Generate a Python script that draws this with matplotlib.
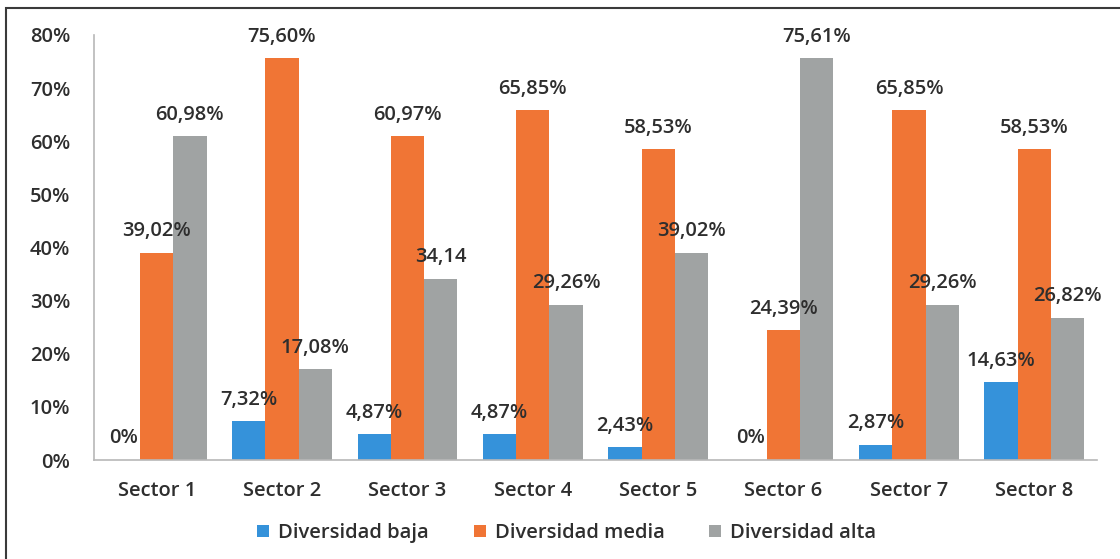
import matplotlib
matplotlib.use("Agg")
import matplotlib.pyplot as plt
from matplotlib.patches import Rectangle
import numpy as np

plt.rcParams['font.family'] = ['Open Sans', 'DejaVu Sans']
plt.rcParams['font.weight'] = 'semibold'

categories = ["Sector 1", "Sector 2", "Sector 3", "Sector 4", "Sector 5", "Sector 6", "Sector 7", "Sector 8"]
series_names = ["Diversidad baja", "Diversidad media", "Diversidad alta"]
baja = [0.0, 7.32, 4.87, 4.87, 2.43, 0.0, 2.87, 14.63]
media = [39.02, 75.60, 60.97, 65.85, 58.53, 24.39, 65.85, 58.53]
alta = [60.98, 17.08, 34.14, 29.26, 39.02, 75.61, 29.26, 26.82]
baja_labels = ["0%", "7,32%", "4,87%", "4,87%", "2,43%", "0%", "2,87%", "14,63%"]
media_labels = ["39,02%", "75,60%", "60,97%", "65,85%", "58,53%", "24,39%", "65,85%", "58,53%"]
alta_labels = ["60,98%", "17,08%", "34,14", "29,26%", "39,02%", "75,61%", "29,26%", "26,82%"]
yticks = [0, 10, 20, 30, 40, 50, 60, 70, 80]
ytick_labels = ["0%", "10%", "20%", "30%", "40%", "50%", "60%", "70%", "80%"]

colors = ["#3592DA", "#F07535", "#A0A3A3"]
text_color = "#2E2E2E"
fs = 14.5

fig = plt.figure(figsize=(11.2, 5.59), dpi=100)
ax = fig.add_axes([94/1120, 1 - 460/559, (1097 - 94)/1120, (460 - 35)/559])

x = np.arange(len(categories))
w = 0.265
all_vals = [baja, media, alta]
all_labels = [baja_labels, media_labels, alta_labels]
for i, (vals, labs) in enumerate(zip(all_vals, all_labels)):
    pos = x + (i - 1) * w
    ax.bar(pos, vals, width=w, color=colors[i], label=series_names[i])
    for px, v, lab in zip(pos, vals, labs):
        ax.annotate(lab, xy=(px, v), xytext=(0, 15.5), textcoords="offset points",
                    ha="center", va="center", fontsize=fs, color=text_color)

ax.set_xlim(-0.5, len(categories) - 0.5)
ax.set_ylim(0, 80)
ax.set_yticks(yticks)
ax.set_yticklabels(ytick_labels)
ax.set_xticks(x)
ax.set_xticklabels(categories)
ax.tick_params(axis="y", length=0, pad=17, labelsize=fs, labelcolor=text_color)
ax.tick_params(axis="x", length=0, pad=15, labelsize=fs, labelcolor=text_color)
for s in ["top", "right"]:
    ax.spines[s].set_visible(False)
for s in ["left", "bottom"]:
    ax.spines[s].set_color("#B8B8B8")
    ax.spines[s].set_linewidth(1.2)

handles, labels = ax.get_legend_handles_labels()
fig.legend(handles, labels, loc="center", bbox_to_anchor=(0.506, 1 - 533/559), ncol=3,
           frameon=False, fontsize=fs, labelcolor=text_color,
           handlelength=0.6, handleheight=0.6, handletextpad=0.45, columnspacing=2.2)

# outer border (top and left visible)
fig.add_artist(Rectangle((6/1120, -0.05), 1.1, 1 - 8/559 + 0.05, transform=fig.transFigure,
                         fill=False, edgecolor="#3A3A3A", linewidth=1.5))

fig.savefig("out.png", dpi=100)
